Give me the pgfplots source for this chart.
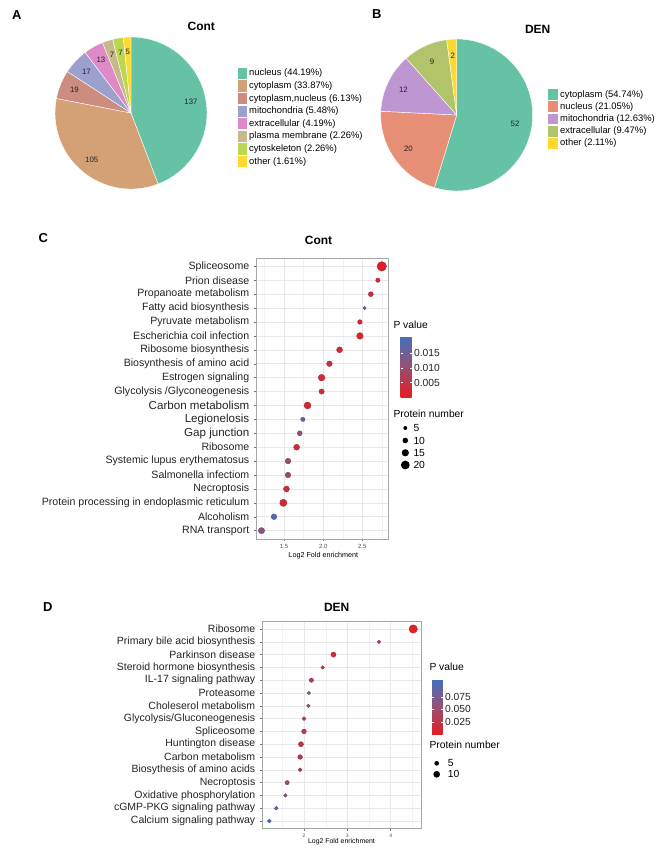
\documentclass[border=0pt]{standalone}
\usepackage{pgfplots}
\pgfplotsset{compat=1.18}
\usepackage{pgfplotstable}
\usepackage{fontspec}
\setmainfont{Liberation Sans}

\definecolor{cA1}{RGB}{102,194,165}
\definecolor{cA2}{RGB}{212,160,118}
\definecolor{cA3}{RGB}{205,140,128}
\definecolor{cA4}{RGB}{155,160,205}
\definecolor{cA5}{RGB}{222,138,200}
\definecolor{cA6}{RGB}{200,185,140}
\definecolor{cA7}{RGB}{188,214,80}
\definecolor{cA8}{RGB}{255,217,47}
\definecolor{cB1}{RGB}{102,194,165}
\definecolor{cB2}{RGB}{230,142,118}
\definecolor{cB3}{RGB}{190,150,210}
\definecolor{cB4}{RGB}{178,196,106}
\definecolor{cB5}{RGB}{255,217,47}
\definecolor{txt}{RGB}{35,35,35}

\pgfplotsset{colormap={pv}{rgb255=(228,30,36) rgb255=(150,80,115) rgb255=(66,113,190)}}

% #1 cumulative count before, #2 count, #3 total, #4 colour, #5 label radius
\newcommand\pieslice[5]{%
  \fill[#4, draw=white, line width=0.4pt] (axis cs:0,0) --
    (axis cs:{76*cos(90-(#1)/#3*360)},{76*sin(90-(#1)/#3*360)})
    arc[start angle={90-(#1)/#3*360}, end angle={90-(#1+#2)/#3*360}, radius=76pt] -- cycle;
  \node[font=\fontsize{7.8}{8}\selectfont, text=txt]
    at (axis cs:{#5*cos(90-(#1+#2/2)/#3*360)},{#5*sin(90-(#1+#2/2)/#3*360)}) {#2};
}

% Panel C: Cont enrichment (row y=1 bottom ... 20 top)
\pgfplotstableread{
x    y  n   p
1.21 1  12  0.012
1.37 2  10  0.019
1.49 3  15  0.002
1.53 4  11  0.004
1.55 5  10  0.0095
1.55 6  10  0.0095
1.66 7  11  0.003
1.70 8  8   0.011
1.74 9  6   0.017
1.80 10 14  0.002
1.98 11 9   0.002
1.98 12 13  0.002
2.08 13 10  0.003
2.21 14 11  0.002
2.47 15 13  0.001
2.47 16 7   0.002
2.53 17 3   0.016
2.61 18 8   0.002
2.70 19 6   0.002
2.75 20 22  0.0005
}\contdata

% Panel D: DEN enrichment (row y=1 bottom ... 16 top)
\pgfplotstableread{
x    y  n   p
1.20 1  3   0.100
1.36 2  3   0.075
1.57 3  2   0.068
1.61 4  4   0.055
1.91 5  3   0.035
1.91 6  5   0.028
1.93 7  6   0.025
2.00 8  5   0.028
2.00 9  3   0.042
2.10 10 2   0.068
2.11 11 2   0.068
2.17 12 4   0.030
2.43 13 2   0.040
2.68 14 6   0.012
3.73 15 2   0.028
4.52 16 14  0.002
}\dendata

\begin{document}
\begin{tikzpicture}[font=\color{txt}]

% ---------------- Panel letters and pie titles
\node[font=\bfseries\fontsize{13}{14}\selectfont] at (16.7pt,-15pt) {A};
\node[font=\bfseries\fontsize{13}{14}\selectfont] at (376.7pt,-14pt) {B};
\node[font=\bfseries\fontsize{13}{14}\selectfont] at (43.3pt,-237.7pt) {C};
\node[font=\bfseries\fontsize{13}{14}\selectfont] at (47.7pt,-607.3pt) {D};
\node[font=\bfseries\fontsize{12}{13}\selectfont] at (201.3pt,-26.7pt) {Cont};
\node[font=\bfseries\fontsize{12}{13}\selectfont] at (537.7pt,-29.3pt) {DEN};

% ---------------- Pie A (counts: 137,105,19,17,13,7,7,5; total 310)
\begin{axis}[at={(131pt,-113pt)}, anchor=center, hide axis, x=1pt, y=1pt,
  xmin=-80, xmax=80, ymin=-80, ymax=80, clip=false]
\pieslice{0}{137}{310}{cA1}{61}
\pieslice{137}{105}{310}{cA2}{61}
\pieslice{242}{19}{310}{cA3}{61}
\pieslice{261}{17}{310}{cA4}{61}
\pieslice{278}{13}{310}{cA5}{61}
\pieslice{291}{7}{310}{cA6}{61}
\pieslice{298}{7}{310}{cA7}{61}
\pieslice{305}{5}{310}{cA8}{61}
\end{axis}

% ---------------- Pie B (counts: 52,20,12,9,2; total 95)
\begin{axis}[at={(456.7pt,-115pt)}, anchor=center, hide axis, x=1pt, y=1pt,
  xmin=-80, xmax=80, ymin=-80, ymax=80, clip=false]
\pieslice{0}{52}{95}{cB1}{59}
\pieslice{52}{20}{95}{cB2}{59}
\pieslice{72}{12}{95}{cB3}{59}
\pieslice{84}{9}{95}{cB4}{59}
\pieslice{93}{2}{95}{cB5}{59}
\end{axis}

% ---------------- Pie legends
\foreach \i/\col/\lab in {0/cA1/nucleus (44.19\%),1/cA2/cytoplasm (33.87\%),2/cA3/{cytoplasm,nucleus (6.13\%)},
   3/cA4/mitochondria (5.48\%),4/cA5/extracellular (4.19\%),5/cA6/plasma membrane (2.26\%),
   6/cA7/cytoskeleton (2.26\%),7/cA8/other (1.61\%)} {
  \fill[\col] (238.3pt,{-(73.4+12.6*\i-5.6)*1pt}) rectangle (247.3pt,{-(73.4+12.6*\i+5.6)*1pt});
  \node[anchor=west, inner sep=0pt, font=\fontsize{9.4}{10}\selectfont] at (249pt,{-(73.4+12.6*\i)*1pt}) {\lab};
}
\foreach \i/\col/\lab in {0/cB1/cytoplasm (54.74\%),1/cB2/nucleus (21.05\%),2/cB3/mitochondria (12.63\%),
   3/cB4/extracellular (9.47\%),4/cB5/other (2.11\%)} {
  \fill[\col] (548.3pt,{-(94.6+12.2*\i-5.4)*1pt}) rectangle (558.3pt,{-(94.6+12.2*\i+5.4)*1pt});
  \node[anchor=west, inner sep=0pt, font=\fontsize{9.4}{10}\selectfont] at (560pt,{-(94.6+12.2*\i)*1pt}) {\lab};
}

% ---------------- Panel C
\begin{axis}[at={(256pt,-539pt)}, anchor=south west, scale only axis,
  width=132pt, height=281pt,
  xmin=1.14, xmax=2.83, ymin=0.4, ymax=20.6,
  xtick={1.5,2.0,2.5}, xticklabels={1.5,2.0,2.5},
  minor xtick={1.25,1.75,2.25,2.75},
  ytick={1,...,20},
  yticklabels={RNA transport, Alcoholism, Protein processing in endoplasmic reticulum, Necroptosis,
    Salmonella infectiom, Systemic lupus erythematosus, Ribosome,
    {\fontsize{11.6}{12}\selectfont Gap junction}, {\fontsize{11.6}{12}\selectfont Legionelosis},
    {\fontsize{11.6}{12}\selectfont Carbon metabolism},
    Glycolysis /Glyconeogenesis, Estrogen signaling, Biosynthesis of amino acid, Ribosome biosynthesis,
    Escherichia coil infection, Pyruvate metabolism, Fatty acid biosynthesis, Propanoate metabolism,
    Prion disease, Spliceosome},
  tick pos=left,
  grid=both,
  major grid style={color=black!9, line width=0.5pt},
  minor grid style={color=black!5, line width=0.35pt},
  axis line style={black!35, line width=0.9pt},
  tick align=outside, major tick length=2.2pt, minor tick length=0pt,
  tick style={black!55, line width=0.4pt},
  xticklabel style={font=\fontsize{6}{6}\selectfont, text=black!70},
  yticklabel style={font=\fontsize{10.6}{11}\selectfont, text=txt, xshift=-1pt},
  /pgf/number format/assume math mode=true,
  xlabel={Log2 Fold enrichment},
  xlabel style={at={(0.51,0)}, anchor=base, yshift=-18pt, font=\fontsize{7.2}{8}\selectfont},
  title={Cont},
  title style={at={(0.474,1)}, anchor=base, yshift=8pt, font=\bfseries\fontsize{12}{13}\selectfont},
  colormap name=pv, point meta min=0, point meta max=0.021,
  colorbar,
  colorbar style={at={(parent axis.north east)}, anchor=north west, xshift=4pt, yshift=-78pt,
    width=11pt, height=61pt, ytick={0.005,0.010,0.015}, yticklabels={0.005,0.010,0.015},
    scaled y ticks=false,
    yticklabel style={font=\fontsize{10.3}{11}\selectfont, text=txt, xshift=-1pt},
    axis line style={draw=none}, major tick length=2pt, tick style={white, line width=0.5pt},
    tick align=inside},
]
\addplot[scatter, only marks, mark=*, scatter src=explicit,
  visualization depends on={1.2+0.16*\thisrow{n} \as \msz},
  scatter/@pre marker code/.append style={/tikz/mark size=\msz}]
  table[x=x, y=y, meta=p] {\contdata};
\end{axis}

\node[anchor=west, inner sep=0pt, font=\fontsize{10.3}{11}\selectfont] at (393.3pt,-324.7pt) {P value};
\node[anchor=west, inner sep=0pt, font=\fontsize{10.3}{11}\selectfont] at (393.3pt,-414.3pt) {Protein number};
\foreach \yy/\rr/\lab in {428/2.0/5, 440.5/2.8/10, 452.8/3.6/15, 465/4.4/20} {
  \fill[black] (405.3pt,{-\yy*1pt}) circle[radius=\rr pt];
  \node[anchor=west, inner sep=0pt, font=\fontsize{10.3}{11}\selectfont] at (413.3pt,{-\yy*1pt}) {\lab};
}

% ---------------- Panel D
\begin{axis}[at={(262pt,-828.3pt)}, anchor=south west, scale only axis,
  width=159pt, height=206.6pt,
  xmin=1.03, xmax=4.70, ymin=0.43, ymax=16.57,
  xtick={2,3,4}, minor xtick={1.5,2.5,3.5,4.5},
  ytick={1,...,16},
  yticklabels={Calcium signaling pathway, cGMP-PKG signaling pathway, Oxidative phosphorylation,
    Necroptosis, Biosythesis of amino acids, Carbon metabolism, Huntington disease, Spliceosome,
    Glycolysis/Gluconeogenesis, Choleserol metabolism, Proteasome, IL-17 signaling pathway,
    Steroid hormone biosynthesis, Parkinson disease, Primary bile acid biosynthesis, Ribosome},
  tick pos=left,
  grid=both,
  major grid style={color=black!9, line width=0.5pt},
  minor grid style={color=black!5, line width=0.35pt},
  axis line style={black!35, line width=0.9pt},
  tick align=outside, major tick length=2.2pt, minor tick length=0pt,
  tick style={black!55, line width=0.4pt},
  xticklabel style={font=\fontsize{5}{5}\selectfont, text=black!70},
  yticklabel style={font=\fontsize{10.5}{11}\selectfont, text=txt, xshift=-1pt},
  /pgf/number format/assume math mode=true,
  xlabel={Log2 Fold enrichment},
  xlabel style={at={(0.5,0)}, anchor=base, yshift=-15pt, font=\fontsize{6.9}{8}\selectfont},
  title={DEN},
  title style={at={(0.47,1)}, anchor=base, yshift=4.3pt, font=\bfseries\fontsize{12}{13}\selectfont},
  colormap name=pv, point meta min=0, point meta max=0.11,
  colorbar,
  colorbar style={at={(parent axis.north east)}, anchor=north west, xshift=2.6pt, yshift=-57.6pt,
    width=10.4pt, height=55pt, ytick={0.025,0.050,0.075}, yticklabels={0.025,0.050,0.075},
    scaled y ticks=false,
    yticklabel style={font=\fontsize{10.3}{11}\selectfont, text=txt, xshift=-1pt},
    axis line style={draw=none}, major tick length=2pt, tick style={white, line width=0.5pt},
    tick align=inside},
]
\addplot[scatter, only marks, mark=*, scatter src=explicit,
  visualization depends on={1.35+0.2*\thisrow{n} \as \msz},
  scatter/@pre marker code/.append style={/tikz/mark size=\msz}]
  table[x=x, y=y, meta=p] {\dendata};
\end{axis}

\node[anchor=west, inner sep=0pt, font=\fontsize{10.3}{11}\selectfont] at (429.3pt,-666.7pt) {P value};
\node[anchor=west, inner sep=0pt, font=\fontsize{10.3}{11}\selectfont] at (429.3pt,-745.3pt) {Protein number};
\foreach \yy/\rr/\lab in {763.3/2.35/5, 774.3/3.35/10} {
  \fill[black] (436.7pt,{-\yy*1pt}) circle[radius=\rr pt];
  \node[anchor=west, inner sep=0pt, font=\fontsize{10.3}{11}\selectfont] at (447.7pt,{-\yy*1pt}) {\lab};
}

\pgfresetboundingbox
\path[use as bounding box] (0pt,0pt) rectangle (658pt,-849pt);
\end{tikzpicture}
\end{document}
